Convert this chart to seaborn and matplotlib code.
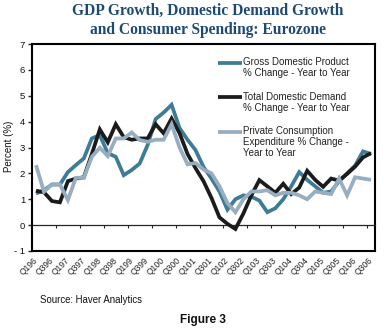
import numpy as np
import pandas as pd
import matplotlib
matplotlib.use("Agg")
import matplotlib.pyplot as plt
import seaborn as sns
from matplotlib.legend_handler import HandlerLine2D

# ---------------- data ----------------
quarters = ["Q196", "Q296", "Q396", "Q496", "Q197", "Q297", "Q397", "Q497",
            "Q198", "Q298", "Q398", "Q498", "Q199", "Q299", "Q399", "Q499",
            "Q100", "Q200", "Q300", "Q400", "Q101", "Q201", "Q301", "Q401",
            "Q102", "Q202", "Q302", "Q402", "Q103", "Q203", "Q303", "Q403",
            "Q104", "Q204", "Q304", "Q404", "Q105", "Q205", "Q305", "Q405",
            "Q106", "Q206", "Q306"]

gdp = [1.22, 1.35, 1.57, 1.57, 2.05, 2.32, 2.58, 3.35, 3.48, 2.78, 2.64,
       1.93, 2.13, 2.38, 3.10, 4.10, 4.35, 4.65, 3.75, 3.30, 2.90, 2.25,
       1.80, 1.30, 0.60, 1.00, 1.15, 1.10, 0.95, 0.50, 0.65, 1.00, 1.50,
       2.05, 1.75, 1.50, 1.25, 1.30, 1.70, 2.00, 2.30, 2.85, 2.75]

tdd = [1.33, 1.27, 0.93, 0.88, 1.70, 1.80, 1.85, 2.75, 3.70, 3.20, 3.90,
       3.40, 3.30, 3.35, 3.35, 3.90, 3.55, 4.12, 3.55, 2.75, 2.20, 1.70,
       1.05, 0.30, 0.05, -0.15, 0.45, 1.15, 1.74, 1.50, 1.25, 1.60, 1.20,
       1.45, 2.10, 1.75, 1.48, 1.80, 1.72, 1.98, 2.26, 2.62, 2.78]

pce = [2.32, 1.29, 1.57, 1.57, 0.97, 1.83, 1.83, 2.64, 2.99, 2.67, 3.35,
       3.35, 3.58, 3.29, 3.22, 3.30, 3.30, 3.90, 3.00, 2.35, 2.40, 2.15,
       2.00, 1.50, 0.85, 0.50, 1.00, 1.30, 1.30, 1.35, 1.15, 1.25, 1.25,
       1.15, 1.00, 1.30, 1.25, 1.20, 1.80, 1.15, 1.85, 1.80, 1.75]

series_names = ["Gross Domestic Product\n% Change - Year to Year",
                "Total Domestic Demand\n% Change - Year to Year",
                "Private Consumption\nExpenditure % Change -\nYear to Year"]
colors = ["#3d7b96", "#1b1b1b", "#97adc0"]
y_ticks = [-1, 0, 1, 2, 3, 4, 5, 6, 7]

title_lines = ["GDP Growth, Domestic Demand Growth",
               "and Consumer Spending: Eurozone"]
source = "Source: Haver Analytics"
figlabel = "Figure 3"

# ---------------- style ----------------
sns.set_style("white")
plt.rcParams['font.family'] = ['Liberation Sans', 'DejaVu Sans']

W, H = 384, 332
fig = plt.figure(figsize=(W / 100, H / 100), dpi=100)
ax = fig.add_axes([32 / W, 1 - 251 / H, 343 / W, 207 / H])

idx = np.arange(len(quarters))
df = pd.DataFrame({"idx": np.tile(idx, 3),
                   "value": gdp + tdd + pce,
                   "series": np.repeat(series_names, len(quarters))})

sns.lineplot(data=df, x="idx", y="value", hue="series",
             hue_order=series_names, palette=colors, linewidth=2.7,
             ax=ax, legend=False, sort=False)
for ln in ax.lines:
    ln.set_solid_joinstyle("miter")
    ln.set_solid_capstyle("butt")

ymin, ymax = y_ticks[0], y_ticks[-1]
ax.set_xlim(-0.5, len(quarters) - 0.5)
ax.set_ylim(ymin, ymax)
ax.set_yticks(y_ticks)
ax.set_yticklabels([str(t) if t >= 0 else "- 1" for t in y_ticks])
ax.set_xticks(idx[::2])
ax.set_xticklabels(quarters[::2], rotation=45, ha="right", va="center",
                   rotation_mode="anchor", fontsize=6.2, color="#222222")
ax.tick_params(axis="x", length=0, pad=6)
ax.tick_params(axis="y", left=True, direction="out", length=3, width=1,
               pad=2, labelsize=6.8, labelcolor="#111111")
ax.set_xlabel("")
ax.set_ylabel("")
for sp in ax.spines.values():
    sp.set_visible(True)
    sp.set_color("black")
    sp.set_linewidth(1.5)
ax.grid(False)

# zero line axis with tick marks every 3 quarters
sec = ax.secondary_xaxis((0 - ymin) / (ymax - ymin))
sec.set_xticks(np.arange(2.5, len(quarters) - 1, 3))
sec.tick_params(axis="x", direction="out", length=2.5, width=0.8,
                labelbottom=False)
sec.spines["bottom"].set_linewidth(0.9)


class TopHandler(HandlerLine2D):
    def __init__(self, nlines, **kw):
        super().__init__(**kw)
        self.nlines = nlines

    def create_artists(self, legend, orig_handle, xdescent, ydescent,
                       width, height, fontsize, trans):
        arts = super().create_artists(legend, orig_handle, xdescent, ydescent,
                                      width, height, fontsize, trans)
        shift = (self.nlines - 1) / 2 * fontsize * 1.12
        for a in arts:
            a.set_ydata(np.asarray(a.get_ydata()) + shift)
        return arts


handles = ax.lines[:3]
hmap = {h: TopHandler(lab.count("\n") + 1) for h, lab in zip(handles, series_names)}
leg = ax.legend(handles, series_names, handler_map=hmap, loc="upper left",
                bbox_to_anchor=((218 - 32) / 343, 1 - 13 / 207),
                frameon=False, fontsize=7, handlelength=2.5,
                handletextpad=0.05, labelspacing=1.4, borderpad=0,
                borderaxespad=0)
for t in leg.get_texts():
    t.set_linespacing(1.12)
    t.set_color("#222222")

fig.text(9 / W, 1 - 146 / H, "Percent (%)", rotation=90, ha="center",
         va="center", fontsize=7, color="#111111")
for k, line in enumerate(title_lines):
    fig.text(208 / W, 1 - (11 + 19 * k) / H, line, ha="center", va="center",
             family=["Liberation Serif", "DejaVu Serif"], fontweight="bold",
             fontsize=11.2, color="#1d4a74")
fig.text(40 / W, 1 - 300 / H, source, ha="left", va="center", fontsize=6.9,
         color="#111111")
fig.text(203 / W, 1 - 320 / H, figlabel, ha="center", va="center",
         fontsize=8.5, fontweight="bold", color="#111111")

fig.savefig("out.png", dpi=100)
